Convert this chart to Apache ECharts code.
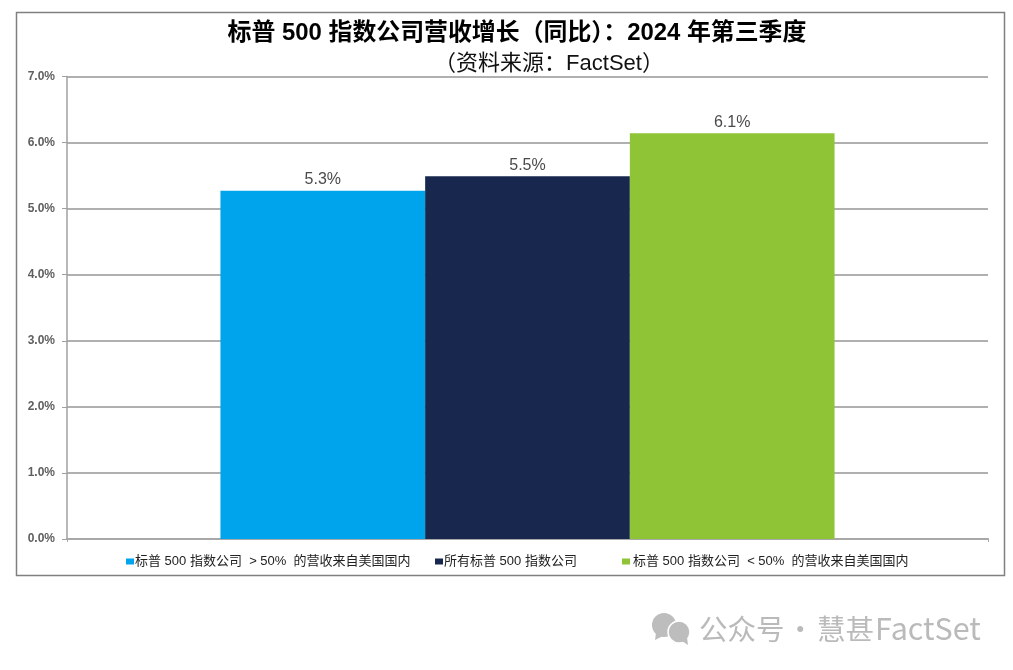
<!DOCTYPE html>
<html>
<head>
<meta charset="utf-8">
<style>html,body{margin:0;padding:0;background:#fff}#c{width:1013px;height:670px}</style>
<script src="https://cdn.jsdelivr.net/npm/echarts@6/dist/echarts.min.js"></script>
</head>
<body>
<div id="c"></div>
<script>
const categories = ['2024 年第三季度'];
const seriesNames = ['标普 500 指数公司  > 50%  的营收来自美国国内', '所有标普 500 指数公司', '标普 500 指数公司  < 50%  的营收来自美国国内'];
const seriesValues = [[5.27], [5.49], [6.14]];
const dataLabels = ['5.3%', '5.5%', '6.1%'];
const seriesColors = ['#00A4EC', '#18274D', '#8FC436'];
const titleText = '标普 500 指数公司营收增长（同比）：2024 年第三季度';
const subtitleText = '（资料来源：FactSet）';
const watermarkParts = ['公众号', '·', '慧甚', 'FactSet'];

const FONT = '"Liberation Sans","Noto Sans CJK SC",sans-serif';
const WM = '"Noto Sans CJK SC","Noto Sans",sans-serif';
const legendLefts = [126, 435, 622];
const legendTextPad = [-4, -4, -2];

const chart = echarts.init(document.getElementById('c'), null, {renderer: 'canvas'});
chart.setOption({
  animation: false,
  backgroundColor: '#fff',
  textStyle: {fontFamily: FONT},
  title: [
    {text: titleText, left: 512, top: 14, textAlign: 'center',
      textStyle: {fontFamily: FONT, fontSize: 23.9, fontWeight: 'bold', color: '#000', lineHeight: 28}},
    {text: subtitleText, left: 544, top: 46, textAlign: 'center',
      textStyle: {fontFamily: FONT, fontSize: 22, fontWeight: 'normal', color: '#111', lineHeight: 26}}
  ],
  legend: seriesNames.map((n, i) => ({
    data: [n], left: legendLefts[i], top: 555, itemWidth: 8, itemHeight: 6, itemGap: 0,
    icon: 'rect', padding: 0, selectedMode: false,
    textStyle: {fontFamily: FONT, fontSize: 13, color: '#222', padding: [0, 0, 0, legendTextPad[i]]}
  })),
  grid: {left: 67, right: 25, top: 76.5, bottom: 131, containLabel: false},
  xAxis: {
    type: 'category', data: categories,
    axisLine: {lineStyle: {color: '#a8a8a8', width: 2}},
    axisTick: {show: true, length: 3, lineStyle: {color: '#a8a8a8'}},
    axisLabel: {show: false}
  },
  yAxis: {
    type: 'value', min: 0, max: 7, interval: 1,
    axisLine: {show: true, lineStyle: {color: '#a0a0a0', width: 1.5}},
    axisTick: {show: true, length: 5, lineStyle: {color: '#a0a0a0'}},
    axisLabel: {fontFamily: FONT, fontSize: 12, fontWeight: 'bold', color: '#5f5f5f', margin: 12,
      formatter: v => v.toFixed(1) + '%'},
    splitLine: {show: true, lineStyle: {color: '#b0b0b0', width: 2}}
  },
  series: seriesNames.map((n, i) => ({
    name: n, type: 'bar', data: seriesValues[i],
    barWidth: 204.7, barGap: 0,
    itemStyle: {color: seriesColors[i]},
    label: {show: true, position: 'top', distance: 3, fontFamily: FONT, fontSize: 16, color: '#4a4a4a',
      formatter: () => dataLabels[i]}
  })),
  graphic: [
    {type: 'rect', z: 100, shape: {x: 16.5, y: 12.5, width: 988, height: 563},
      style: {fill: 'none', stroke: '#808080', lineWidth: 1.5}, silent: true},
    {type: 'circle', z: 100, shape: {cx: 664, cy: 625, r: 12}, style: {fill: '#bdbdbd', stroke: '#fff', lineWidth: 0}, silent: true},
    {type: 'polygon', z: 100, shape: {points: [[656, 633], [655, 640], [663, 636]]}, style: {fill: '#bdbdbd'}, silent: true},
    {type: 'circle', z: 101, shape: {cx: 679, cy: 632, r: 11}, style: {fill: '#bdbdbd', stroke: '#fff', lineWidth: 1.5}, silent: true},
    {type: 'polygon', z: 101, shape: {points: [[682, 641], [688, 645], [687, 637]]}, style: {fill: '#bdbdbd'}, silent: true},
    {type: 'text', z: 100, left: 699, top: 615, silent: true, style: {text: watermarkParts[0], fontFamily: WM, fontSize: 28.5, fill: '#bababa'}},
    {type: 'text', z: 100, left: 786, top: 615, silent: true, style: {text: watermarkParts[1], fontFamily: WM, fontSize: 28.5, fill: '#bababa'}},
    {type: 'text', z: 100, left: 817, top: 615, silent: true, style: {text: watermarkParts[2], fontFamily: WM, fontSize: 28.5, fill: '#bababa'}},
    {type: 'text', z: 100, left: 875, top: 613, silent: true, style: {text: watermarkParts[3], fontFamily: WM, fontSize: 30.5, fill: '#bababa'}}
  ]
});
</script>
</body>
</html>
